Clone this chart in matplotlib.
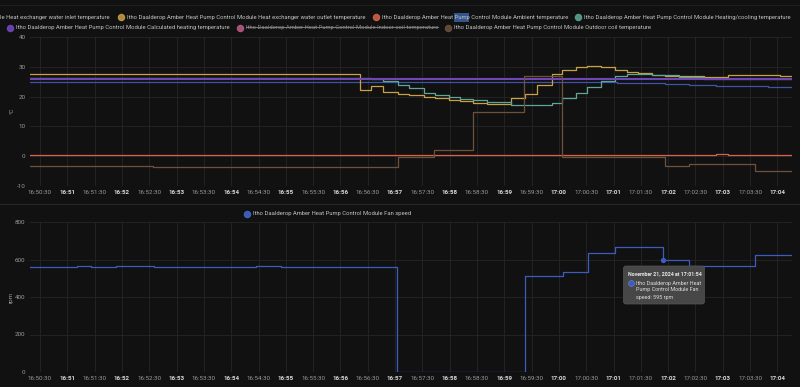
import matplotlib
matplotlib.use("Agg")
import matplotlib.pyplot as plt
from matplotlib.transforms import IdentityTransform
from matplotlib.patches import FancyBboxPatch, Rectangle
from matplotlib.lines import Line2D

plt.rcParams['font.family'] = ['Roboto', 'DejaVu Sans']

W, H = 800, 387
START = "16:50:19"
END = "17:04:16"

tick_labels = ["16:50:30", "16:51", "16:51:30", "16:52", "16:52:30", "16:53", "16:53:30",
               "16:54", "16:54:30", "16:55", "16:55:30", "16:56", "16:56:30", "16:57",
               "16:57:30", "16:58", "16:58:30", "16:59", "16:59:30", "17:00", "17:00:30",
               "17:01", "17:01:30", "17:02", "17:02:30", "17:03", "17:03:30", "17:04"]

# --- temperature series (°C) ---
inlet_t = ["16:50:19", "17:01:04", "17:01:30", "17:01:56", "17:02:23", "17:02:52", "17:03:22", "17:03:50"]
inlet_v = [24.9, 24.6, 24.4, 24.2, 23.9, 23.7, 23.4, 23.1]

outlet_t = ["16:50:19", "16:56:21", "16:56:34", "16:56:47", "16:57:03", "16:57:15", "16:57:32",
            "16:57:44", "16:57:59", "16:58:11", "16:58:26", "16:58:41", "16:59:07", "16:59:23",
            "16:59:36", "16:59:52", "17:00:03", "17:00:19", "17:00:31", "17:00:46", "17:01:02",
            "17:01:15", "17:01:27", "17:01:42", "17:01:56", "17:02:12", "17:02:39", "17:03:06",
            "17:03:22", "17:03:35", "17:04:03"]
outlet_v = [27.7, 22.3, 23.4, 21.7, 21.0, 20.5, 19.8, 19.5, 19.0, 18.5, 18.0, 17.4, 19.6, 21.0,
            24.0, 27.7, 28.9, 29.9, 30.3, 29.9, 29.0, 28.4, 27.9, 27.4, 27.0, 26.9, 26.7, 27.1,
            27.4, 27.1, 26.9]

ambient_t = ["16:50:19", "17:02:52", "17:03:06"]
ambient_v = [0.55, 0.8, 0.55]

heating_t = ["16:50:19", "16:56:34", "16:56:47", "16:57:03", "16:57:15", "16:57:32", "16:57:44",
             "16:57:59", "16:58:11", "16:58:26", "16:58:41", "16:59:07", "16:59:52", "17:00:03",
             "17:00:19", "17:00:31", "17:00:46", "17:01:02", "17:01:15", "17:01:42", "17:02:12",
             "17:02:39"]
heating_v = [26.3, 25.9, 25.2, 24.0, 22.9, 21.3, 20.6, 20.0, 19.3, 19.0, 18.1, 17.3, 17.9, 19.4,
             21.3, 23.2, 25.2, 27.0, 27.6, 27.3, 26.7, 25.9]

calc_t = ["16:50:19"]
calc_v = [25.9]

outdoor_t = ["16:50:19", "16:51:11", "16:52:34", "16:54:27", "16:57:03", "16:57:43", "16:58:26",
             "16:59:22", "17:00:03", "17:01:56", "17:02:23", "17:03:35"]
outdoor_v = [-3.2, -3.4, -3.5, -3.7, -0.2, 2.1, 14.8, 26.9, -0.4, -3.2, -2.7, -5.0]

# --- fan speed (rpm) ---
fan_t = ["16:50:19", "16:51:11", "16:51:26", "16:51:54", "16:52:35", "16:54:27", "16:54:55",
         "16:57:02", "16:59:23", "17:00:04", "17:00:32", "17:01:02", "17:01:54", "17:02:23",
         "17:03:35"]
fan_v = [558, 565, 558, 565, 558, 565, 558, 0, 514, 534, 636, 665, 595, 565, 624]

temp_ticks = [-10, 0, 10, 20, 30, 40]
fan_ticks = [0, 200, 400, 600, 800]

names = ["Itho Daalderop Amber Heat Pump Control Module Heat exchanger water inlet temperature",
         "Itho Daalderop Amber Heat Pump Control Module Heat exchanger water outlet temperature",
         "Itho Daalderop Amber Heat Pump Control Module Ambient temperature",
         "Itho Daalderop Amber Heat Pump Control Module Heating/cooling temperature",
         "Itho Daalderop Amber Heat Pump Control Module Calculated heating temperature",
         "Itho Daalderop Amber Heat Pump Control Module Indoor coil temperature",
         "Itho Daalderop Amber Heat Pump Control Module Outdoor coil temperature"]
fan_name = "Itho Daalderop Amber Heat Pump Control Module Fan speed"
tooltip_title = "November 21, 2024 at 17:01:54"
tooltip_lines = ["Itho Daalderop Amber Heat", "Pump Control Module Fan", "speed: 595 rpm"]

BG = "#111111"
GRID = "#262626"
TICK_C = "#9a9a9a"
TEXT_C = "#c4c4c4"
COL = {"inlet": "#3b55a8", "outlet": "#c9a043", "ambient": "#d9614c", "heating": "#5ea695",
       "calc": "#6f47b5", "indoor": "#c0628a", "outdoor": "#6f513b", "fan": "#3d5cc0"}
LEG_COL = {"inlet": "#4269d0", "outlet": "#c9a043", "ambient": "#d9614c", "heating": "#5ea695",
           "calc": "#7448c0", "indoor": "#b85f86", "outdoor": "#6f513b"}


def sec(s):
    p = s.split(":")
    return (int(p[0]) - 16) * 3600 + (int(p[1]) - 50) * 60 + (int(p[2]) if len(p) > 2 else 0)


def steps(ax, t, v, **kw):
    x = [sec(s) for s in t] + [sec(END)]
    y = list(v) + [v[-1]]
    ax.step(x, y, where="post", **kw)


fig = plt.figure(figsize=(W / 100, H / 100), dpi=100, facecolor=BG)
ID = IdentityTransform()


def Y(y_img):
    return H - y_img


ax1 = fig.add_axes([30 / W, 1 - 186 / H, 762 / W, 149 / H])
ax2 = fig.add_axes([30 / W, 1 - 372 / H, 762 / W, 150 / H])

tick_pos = [sec(s) for s in tick_labels]

for ax in (ax1, ax2):
    ax.set_facecolor(BG)
    for sp in ax.spines.values():
        sp.set_visible(False)
    ax.set_xlim(sec(START), sec(END))
    ax.set_xticks(tick_pos)
    ax.set_xticklabels(tick_labels)
    ax.tick_params(axis="both", length=0, labelsize=4.5, colors=TICK_C, pad=3.2)
    ax.grid(True, color=GRID, lw=0.6)
    ax.set_axisbelow(True)
    for lab in ax.get_xticklabels():
        if lab.get_text().count(":") == 1:
            lab.set_fontweight("bold")
            lab.set_color("#d8d8d8")
        else:
            lab.set_color("#9a9a9a")

# top chart
ax1.set_ylim(-10, 40)
ax1.set_yticks(temp_ticks)
ax1.set_yticklabels([str(v) for v in temp_ticks])
steps(ax1, inlet_t, inlet_v, color=COL["inlet"], lw=0.9)
steps(ax1, outlet_t, outlet_v, color=COL["outlet"], lw=0.9)
steps(ax1, ambient_t, ambient_v, color=COL["ambient"], lw=0.9)
steps(ax1, heating_t, heating_v, color=COL["heating"], lw=0.9)
steps(ax1, calc_t, calc_v, color=COL["calc"], lw=1.5)
steps(ax1, outdoor_t, outdoor_v, color=COL["outdoor"], lw=0.9)
fig.text(12, Y(111), "°C", transform=ID, rotation=90, ha="center", va="center",
         fontsize=4.5, color=TICK_C)

# bottom chart
ax2.set_ylim(0, 800)
ax2.set_yticks(fan_ticks)
ax2.set_yticklabels([str(v) for v in fan_ticks])
steps(ax2, fan_t, fan_v, color=COL["fan"], lw=0.9)
ax2.plot([sec("17:01:54")], [595], marker="o", ms=2.8, color=COL["fan"])
fig.text(11, Y(297), "rpm", transform=ID, rotation=90, ha="center", va="center",
         fontsize=4.5, color=TICK_C)

# separators
fig.add_artist(Line2D([0, W], [Y(5), Y(5)], transform=ID, color="#1f1f1f", lw=0.8))
fig.add_artist(Line2D([0, W], [Y(204), Y(204)], transform=ID, color="#262626", lw=0.8))

# legends
renderer = fig.canvas.get_renderer()
LFS = 4.25


def dot(x, y_img, color, size=4.4):
    fig.add_artist(Line2D([x], [Y(y_img)], transform=ID, marker="o", ms=size,
                          markerfacecolor=color, markeredgecolor=color, alpha=0.85, lw=0))


def width(txt, fs=LFS, weight="normal"):
    t = fig.text(0, 0, txt, transform=ID, fontsize=fs, fontweight=weight)
    bb = t.get_window_extent(renderer)
    t.remove()
    return bb.width


def item(x, y_img, label, color, hidden=False, highlight=None):
    dot(x, y_img, color)
    tc = "#8a8a8a" if hidden else TEXT_C
    t = fig.text(x + 6, Y(y_img), label, transform=ID, ha="left", va="center",
                 fontsize=LFS, color=tc, zorder=5)
    bb = t.get_window_extent(renderer)
    if hidden:
        fig.add_artist(Line2D([bb.x0, bb.x1], [Y(y_img) + 0.8, Y(y_img) + 0.8],
                              transform=ID, color=tc, lw=0.6))
    if highlight:
        pre = label[:label.index(highlight) + len(highlight)]
        xe = bb.x0 + width(pre)
        xs = xe - width(highlight)
        fig.add_artist(Rectangle((xs, Y(y_img) - 4.5), xe - xs, 9, transform=ID,
                                 facecolor="#34558a", edgecolor="none", zorder=2))
    return bb.x1 + 10


fig.text(110, Y(17), names[0], transform=ID, ha="right", va="center", fontsize=LFS,
         color=TEXT_C)
x = 121
x = item(x, 17, names[1], LEG_COL["outlet"])
x = item(x, 17, names[2], LEG_COL["ambient"], highlight="Pump")
x = item(x, 17, names[3], LEG_COL["heating"])
x = 10
x = item(x, 28, names[4], LEG_COL["calc"])
x = item(x, 28, names[5], LEG_COL["indoor"], hidden=True)
x = item(x, 28, names[6], LEG_COL["outdoor"])

item(247, 214, fan_name, "#4269d0")

# tooltip
fig.add_artist(FancyBboxPatch((623.5, Y(304)), 81, 38, boxstyle="round,pad=0,rounding_size=2.5",
                              transform=ID, facecolor="#474747", edgecolor="#555555", lw=0.5,
                              zorder=6))
fig.text(627.5, Y(274), tooltip_title, transform=ID, ha="left", va="center", fontsize=3.8,
         fontweight="bold", color="#e6e6e6", zorder=7)
fig.add_artist(Line2D([631], [Y(283)], transform=ID, marker="o", ms=4.2,
                      markerfacecolor="#3d5cc0", markeredgecolor="#6f86d6", mew=0.4, lw=0,
                      zorder=7))
for i, line in enumerate(tooltip_lines):
    fig.text(636.5, Y(283 + 7 * i), line, transform=ID, ha="left", va="center", fontsize=3.85,
             color="#dedede", zorder=7)

fig.savefig("out.png", dpi=100, facecolor=BG)
